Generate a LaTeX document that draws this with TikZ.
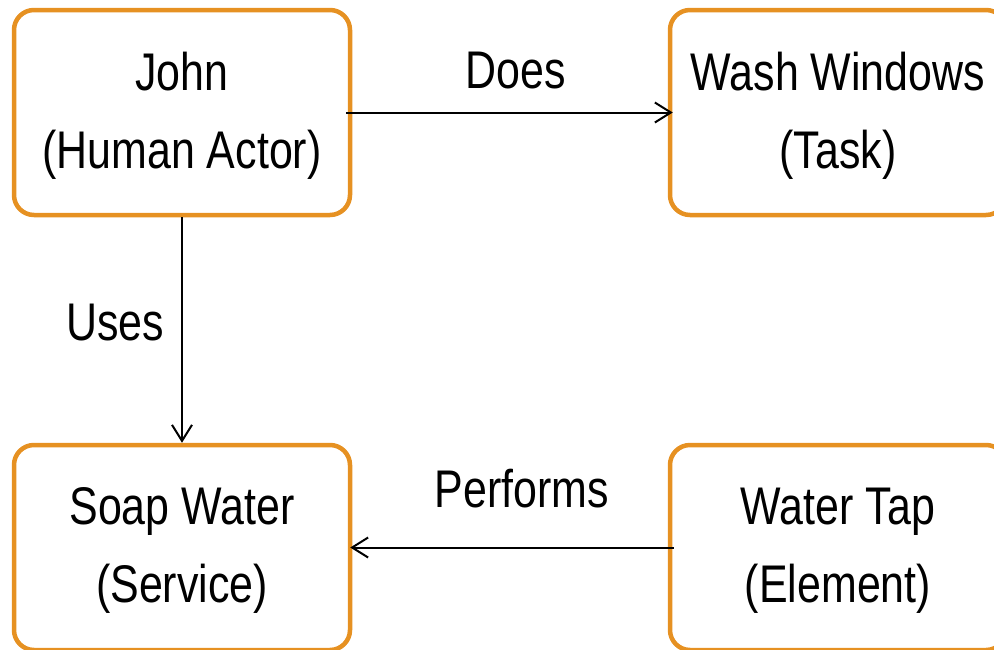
\documentclass[tikz,border=0pt]{standalone}
\usepackage{fontspec}
\setmainfont[FakeStretch=0.81]{Liberation Sans}
\usetikzlibrary{arrows.meta}
\definecolor{boxorange}{HTML}{E69122}
\begin{document}
\begin{tikzpicture}[x=1pt,y=-1pt,
  entity/.style={draw=boxorange, line width=4.5pt, rounded corners=20pt,
    minimum width=336pt, minimum height=205pt, inner sep=0pt,
    text depth=5pt,
    align=center, font=\fontsize{53}{78}\selectfont},
  rel/.style={draw=black, line width=2pt, -{Straight Barb[length=16pt,width=20pt,line width=2pt]}},
  lbl/.style={anchor=base, inner sep=0pt, font=\fontsize{53}{78}\selectfont}]
  \useasboundingbox (0,0) rectangle (994,649);
  \clip (0,0) rectangle (994,649);

  % four entities
  \node[entity] (john) at (182,112.5) {John\\(Human Actor)};
  \node[entity] (task) at (838,112.5) {Wash Windows\\(Task)};
  \node[entity] (soap) at (182,547.5) {Soap Water\\(Service)};
  \node[entity] (tap)  at (838,547.5) {Water Tap\\(Element)};

  % relations
  \draw[rel] ([xshift=-6pt]john.east) -- ([xshift=5pt]task.west);
  \draw[rel] (john.south) -- (soap.north);
  \draw[rel] ([xshift=6pt]tap.west) -- ([xshift=-2pt]soap.east);

  % relation labels
  \node[lbl] (does) at (516,88) {Does};
  \node[lbl] (uses) at (115,340) {Uses};
  \node[lbl] (performs) at (522,507) {Performs};
\end{tikzpicture}
\end{document}
